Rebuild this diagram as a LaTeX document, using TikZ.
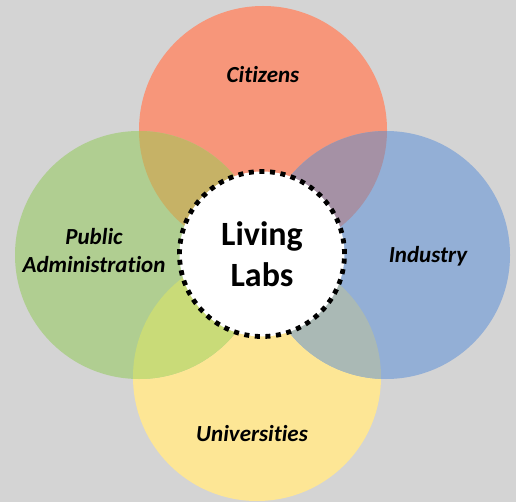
\documentclass[tikz,border=0pt]{standalone}
\usepackage{fontspec}
\setmainfont[Ligatures={NoCommon}]{Carlito}
\definecolor{bg}{HTML}{D4D4D4}
\definecolor{corange}{HTML}{F7967A}
\definecolor{cgreen}{HTML}{B0CE91}
\definecolor{cblue}{HTML}{93AFD6}
\definecolor{cyellow}{HTML}{FDE695}
\definecolor{cog}{HTML}{C6B266}
\definecolor{cob}{HTML}{A591A5}
\definecolor{cgy}{HTML}{C9DB78}
\definecolor{cby}{HTML}{AAB9B5}
\tikzset{
  lab/.style={font=\fontsize{23}{28}\selectfont\bfseries\itshape, align=center, text=black},
  hub/.style={circle, fill=white, draw=black, line width=4.8pt, dash pattern=on 5pt off 5.6pt, minimum size=165pt, inner sep=0pt, font=\fontsize{34}{41}\selectfont\bfseries, align=center}
}
\begin{document}
\begin{tikzpicture}[x=1pt,y=-1pt]
\fill[bg] (0,0) rectangle (516,502);
\useasboundingbox (0,0) rectangle (516,502);
\coordinate (T) at (263,130);
\coordinate (L) at (139,255);
\coordinate (R) at (386,255);
\coordinate (B) at (257,377);
\def\rr{124pt}
\fill[corange] (T) circle[radius=\rr];
\fill[cyellow] (B) circle[radius=\rr];
\fill[cgreen] (L) circle[radius=\rr];
\fill[cblue] (R) circle[radius=\rr];
\begin{scope}\clip (T) circle[radius=\rr]; \fill[cog] (L) circle[radius=\rr]; \fill[cob] (R) circle[radius=\rr];\end{scope}
\begin{scope}\clip (B) circle[radius=\rr]; \fill[cgy] (L) circle[radius=\rr]; \fill[cby] (R) circle[radius=\rr];\end{scope}
\node[hub] (hub) at (262,254) {Living\\Labs};
\node[lab] (cit) at (263,75) {Citizens};
\node[lab] (pub) at (94,251) {Public\\Administration};
\node[lab] (ind) at (428,256) {Industry};
\node[lab] (uni) at (252,434) {Universities};
\end{tikzpicture}
\end{document}
